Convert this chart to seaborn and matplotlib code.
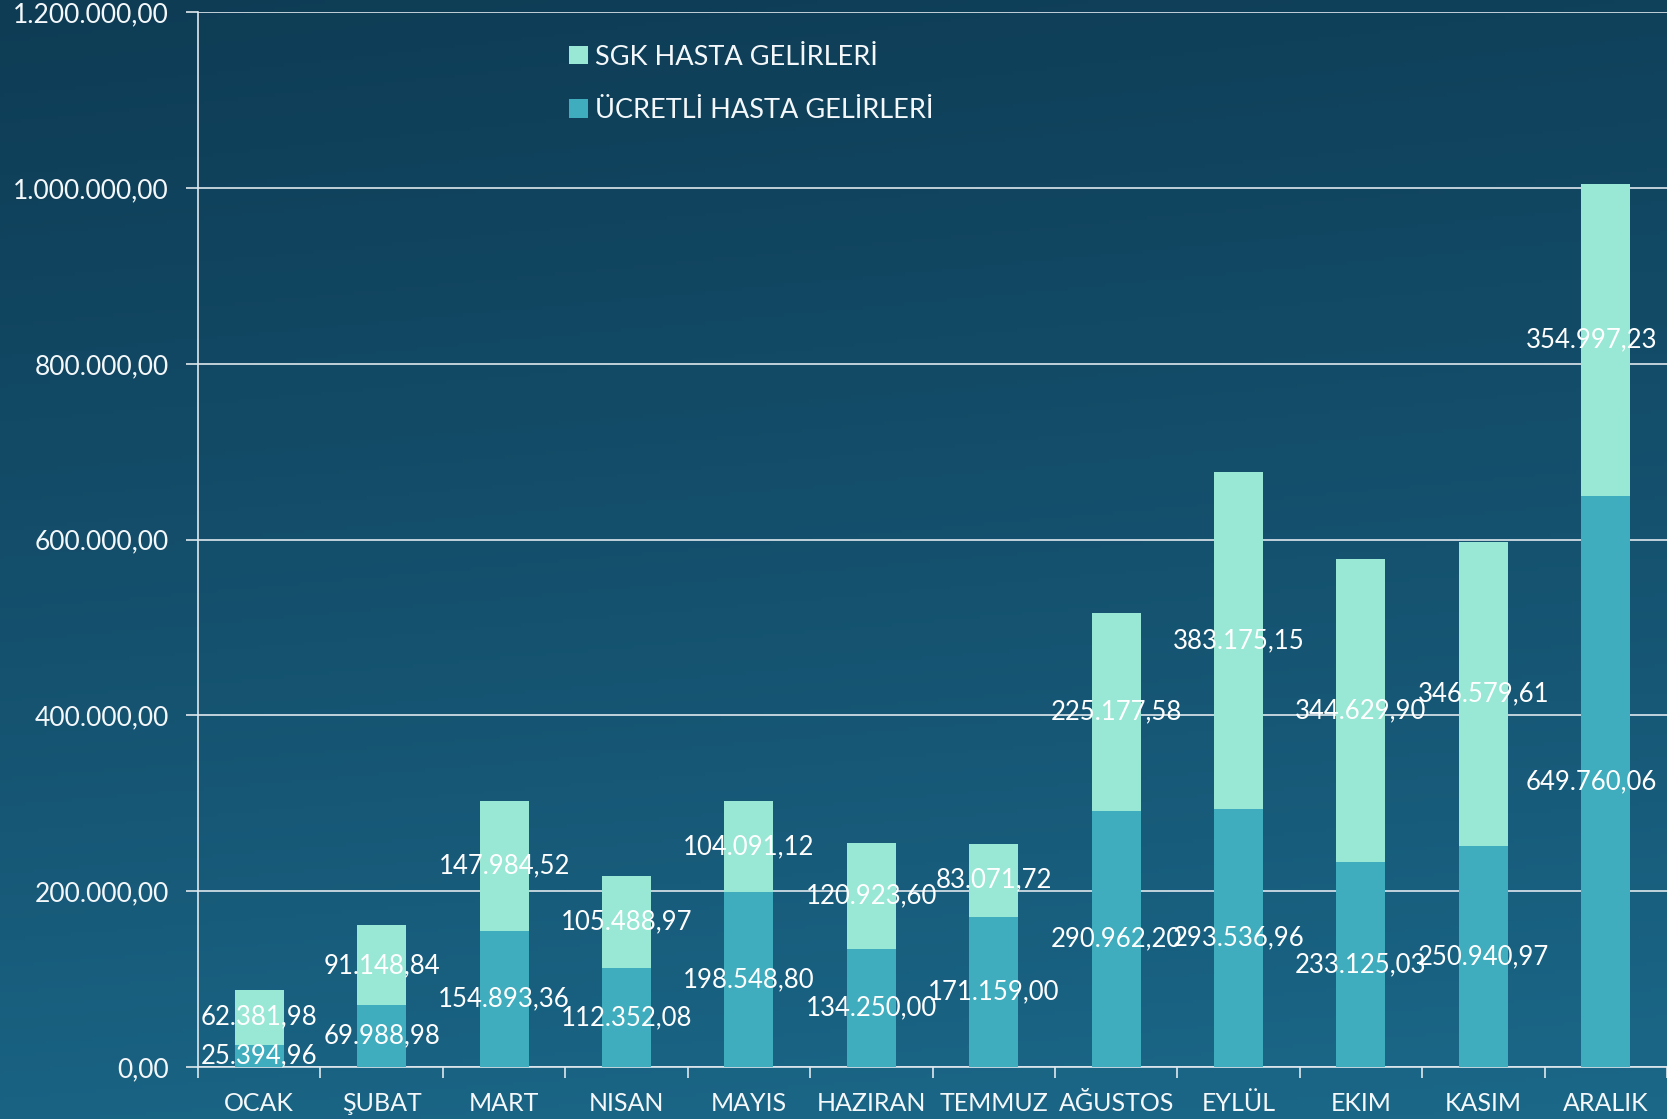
import numpy as np
import pandas as pd
import matplotlib
matplotlib.use("Agg")
import matplotlib.pyplot as plt
import matplotlib.transforms as mtransforms
from matplotlib.patches import Patch
from matplotlib.ticker import FixedLocator, FuncFormatter
import seaborn as sns

# Monthly revenue (TL)
months = ["OCAK", "ŞUBAT", "MART", "NISAN", "MAYIS", "HAZIRAN", "TEMMUZ",
          "AĞUSTOS", "EYLÜL", "EKIM", "KASIM", "ARALIK"]
ucretli = [25394.96, 69988.98, 154893.36, 112352.08, 198548.80, 134250.00,
           171159.00, 290962.20, 293536.96, 233125.03, 250940.97, 649760.06]
sgk = [62381.98, 91148.84, 147984.52, 105488.97, 104091.12, 120923.60,
       83071.72, 225177.58, 383175.15, 344629.90, 346579.61, 354997.23]
y_ticks = [0, 200000, 400000, 600000, 800000, 1000000, 1200000]

c_sgk = "#98e8d5"
c_ucretli = "#3fadbd"
white = "#f4f8fa"
line_c = "#dfe8ee"

sns.set_theme(style="white")
plt.rcParams["font.family"] = ["Lato", "DejaVu Sans"]

def tr_number(v):
    s = f"{v:,.2f}"
    return s.replace(",", "X").replace(".", ",").replace("X", ".")

df = pd.DataFrame({"ay": months, "ucretli": ucretli, "sgk": sgk})
df["toplam"] = df["ucretli"] + df["sgk"]

fig = plt.figure(figsize=(16.67, 11.19), dpi=100)

# background gradient
bg = fig.add_axes([0, 0, 1, 1], zorder=-10)
h, w = 300, 400
yy = np.linspace(0, 1, h)[:, None]
xx = np.linspace(0, 1, w)[None, :]
top = np.array([0x0e, 0x3c, 0x55]) / 255
bot = np.array([0x1b, 0x67, 0x88]) / 255
t = np.clip(yy ** 1.1 * 0.9 + xx * 0.12, 0, 1)
img = top[None, None, :] * (1 - t[..., None]) + bot[None, None, :] * t[..., None]
bg.imshow(img, aspect="auto", extent=[0, 1, 0, 1], origin="upper")
bg.set_axis_off()

ax = fig.add_axes([0.1188, 0.0465, 0.8812, 0.9425])
ax.set_facecolor("none")

sns.barplot(data=df, x="ay", y="toplam", color=c_sgk, width=0.4,
            saturation=1, ax=ax, zorder=2, linewidth=0)
sns.barplot(data=df, x="ay", y="ucretli", color=c_ucretli, width=0.4,
            saturation=1, ax=ax, zorder=3, linewidth=0)

fs = 18.5
n = len(months)
for i, (u, s) in enumerate(zip(ucretli, sgk)):
    # keep the labels of the last column inside the figure
    dx = -14 if i == n - 1 else 0
    tr = mtransforms.offset_copy(ax.transData, fig=fig, x=dx, y=0, units="dots")
    ax.text(i, u / 2, tr_number(u), ha="center", va="center",
            color="white", fontsize=fs, zorder=5, transform=tr)
    ax.text(i, u + s / 2, tr_number(s), ha="center", va="center",
            color="white", fontsize=fs, zorder=5, transform=tr)

ax.set_ylim(0, 1200000)
ax.set_xlim(-0.5, n - 0.5)
ax.yaxis.set_major_locator(FixedLocator(y_ticks))
ax.yaxis.set_major_formatter(FuncFormatter(lambda v, p: tr_number(v)))
ax.grid(axis="y", color=line_c, linewidth=1.2, zorder=1)
ax.set_axisbelow(True)

ax.set_xlabel("")
ax.set_ylabel("")
for side in ["top", "right"]:
    ax.spines[side].set_visible(False)
for side in ["left", "bottom"]:
    ax.spines[side].set_color(line_c)
    ax.spines[side].set_linewidth(1.2)

ax.tick_params(axis="y", which="major", length=9, width=1.2, color=line_c,
               labelcolor=white, labelsize=19, pad=12, left=True)
ax.tick_params(axis="x", which="major", length=0, labelcolor=white,
               labelsize=18, pad=18)
ax.xaxis.set_minor_locator(FixedLocator(np.arange(-0.5, n, 1.0)))
ax.tick_params(axis="x", which="minor", length=8, width=1.2,
               color=line_c, direction="out", bottom=True)

handles = [Patch(facecolor=c_sgk, edgecolor="none", label="SGK HASTA GELİRLERİ"),
           Patch(facecolor=c_ucretli, edgecolor="none", label="ÜCRETLİ HASTA GELİRLERİ")]
fig.legend(handles=handles, loc="upper left", bbox_to_anchor=(0.327, 0.982),
           frameon=False, fontsize=19.5, labelcolor=white, handlelength=0.68,
           handleheight=0.68, handletextpad=0.25, labelspacing=1.05)

fig.savefig("out.png", dpi=100)
